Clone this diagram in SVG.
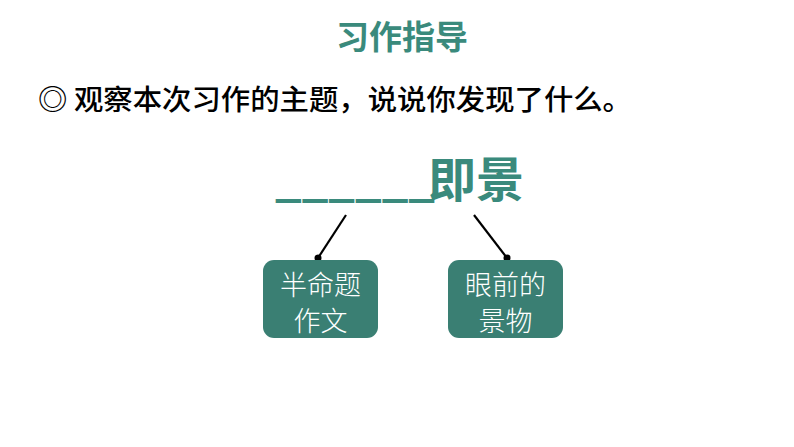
<svg xmlns="http://www.w3.org/2000/svg" width="794" height="447" viewBox="0 0 794 447">
<style>
.cjk{font-family:"Noto Sans CJK SC","Noto Sans",sans-serif;}
.teal{fill:#3a8a7c;}
.box{fill:#3a7f73;}
.btxt{fill:#ffffff;font-size:27px;font-weight:300;text-anchor:middle;}
.conn{stroke:#000;stroke-width:2.2;fill:none;}
</style>
<rect width="794" height="447" fill="#ffffff"/>
<g id="title">
<text class="cjk teal" x="402" y="49" font-size="33" font-weight="bold" text-anchor="middle">习作指导</text>
</g>
<g id="question">
<text class="cjk" x="38" y="110" font-size="28" font-weight="500" fill="#000" textLength="594" lengthAdjust="spacingAndGlyphs">◎ 观察本次习作的主题，说说你发现了什么。</text>
</g>
<g id="topic">
<text class="cjk teal" x="275" y="196" font-size="46" font-weight="bold" textLength="160" lengthAdjust="spacingAndGlyphs">______</text>
<text class="cjk teal" x="428" y="197" font-size="48" font-weight="bold">即景</text>
</g>
<g id="connectors">
<line class="conn" x1="346" y1="215" x2="318" y2="258"/>
<circle cx="318" cy="258" r="3.5" fill="#000"/>
<line class="conn" x1="474" y1="215" x2="507" y2="258"/>
<circle cx="507" cy="258" r="3.5" fill="#000"/>
</g>
<g id="node-left">
<rect class="box" x="263" y="260" width="115" height="78" rx="11"/>
<text class="cjk btxt" x="320.5" y="295">半命题</text>
<text class="cjk btxt" x="320.5" y="331">作文</text>
</g>
<g id="node-right">
<rect class="box" x="448" y="260" width="115" height="78" rx="11"/>
<text class="cjk btxt" x="505.5" y="295">眼前的</text>
<text class="cjk btxt" x="505.5" y="331">景物</text>
</g>
</svg>
